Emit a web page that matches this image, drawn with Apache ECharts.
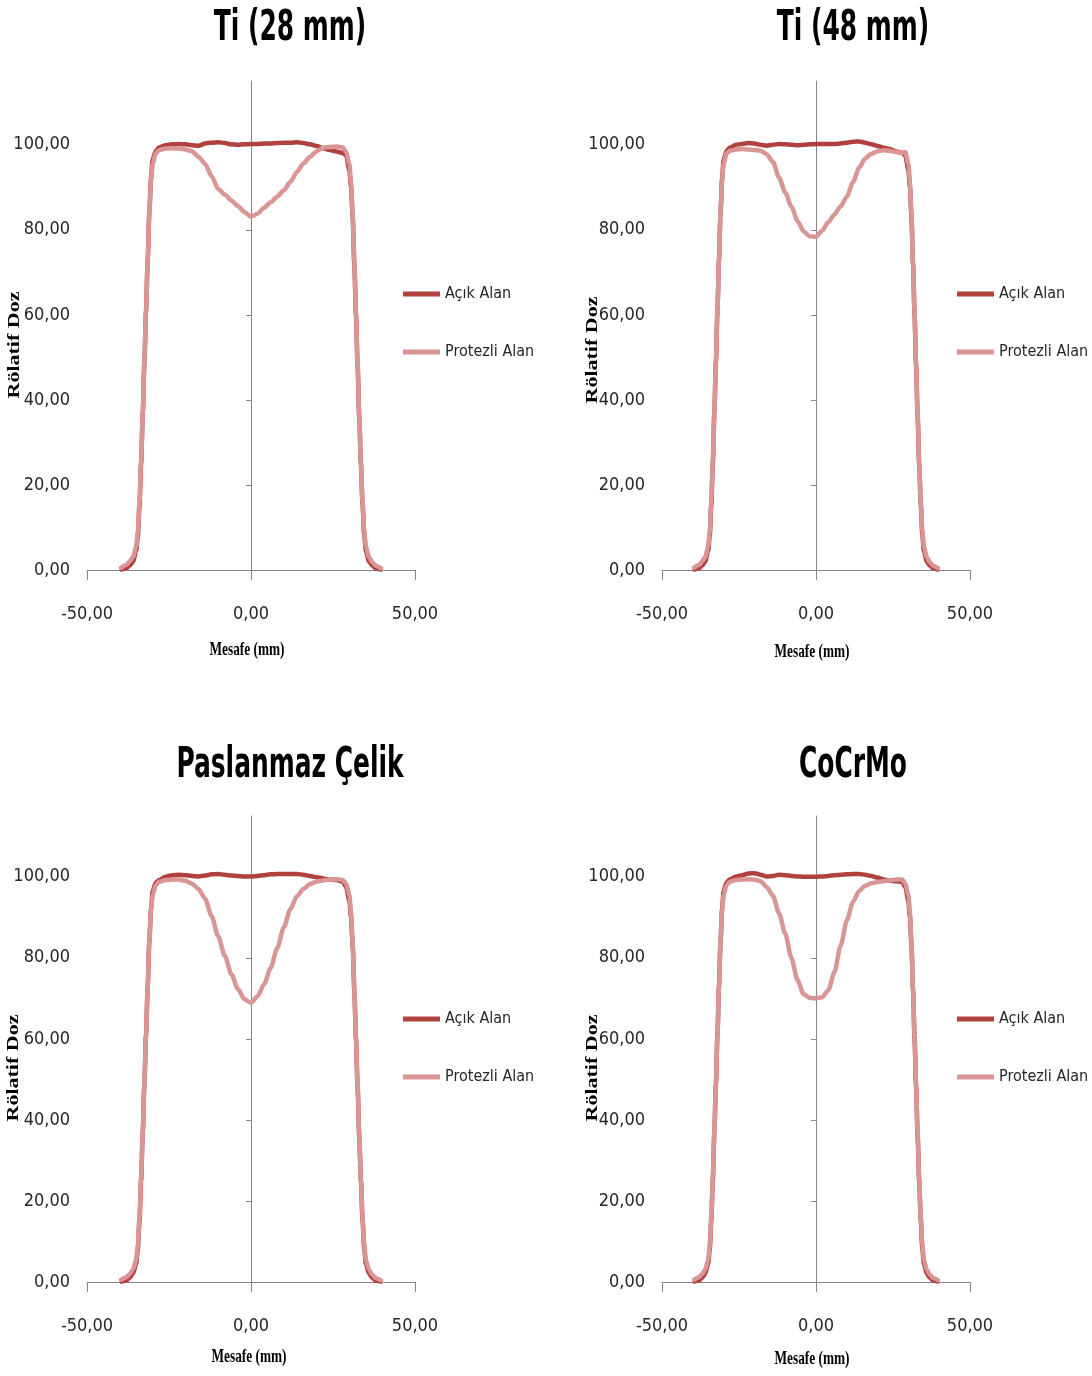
<!DOCTYPE html>
<html><head><meta charset="utf-8">
<script src="https://cdn.jsdelivr.net/npm/echarts@6/dist/echarts.min.js"></script>
<style>html,body{margin:0;padding:0;background:#fff}#c{width:1092px;height:1376px}</style>
</head><body><div id="c"></div>
<script>
// ---- data ----
const titles = ['Ti (28 mm)', 'Ti (48 mm)', 'Paslanmaz Çelik', 'CoCrMo'];
const seriesNames = ['Açık Alan', 'Protezli Alan'];
const xTickLabels = [-50, 0, 50];
const yTickValues = [0, 20, 40, 60, 80, 100];

const xLeft = [-40, -38, -37, -36, -35, -34.5, -34, -33.5, -33, -32.5, -32, -31.5, -31, -30.5, -30, -29];
const xMid = [-28, -26, -24, -22, -20, -18, -16, -14, -12, -10, -8, -6, -4, -2, 0, 2, 4, 6, 8, 10, 12, 14, 16, 18, 20, 22, 24, 26, 28];
const xRight = [29, 30, 30.5, 31, 31.5, 32, 32.5, 33, 33.5, 34, 34.5, 35, 36, 37, 38, 40];

const openLeft = [0, 0.4, 1, 2, 4.5, 8, 15, 25, 37, 49, 61, 73, 84, 92, 96.5, 98.6];
const protLeft = [0.3, 1.2, 2, 3, 5.5, 9, 16, 26, 37, 49, 61, 73, 84, 91.5, 95.5, 98];
const openRight = [97.5, 94, 90, 83, 72, 60, 48, 36, 25, 15.5, 8.5, 4.5, 2, 1, 0.4, 0];
const protRight = [98.3, 95.5, 91, 83.5, 72.5, 60.5, 48.5, 36.5, 25.5, 16, 9.5, 5.5, 3, 1.8, 1, 0.2];

const ti28Open = [99.4, 99.9, 100.1, 100.2, 100.1, 99.9, 99.8, 100.3, 100.5, 100.6, 100.4, 100.1, 100.0, 100.1, 100.2, 100.2, 100.3, 100.3, 100.4, 100.5, 100.5, 100.6, 100.4, 100.1, 99.7, 99.2, 98.8, 98.4, 98.1];
const ti28Prot = [98.8, 99.1, 99.2, 99.1, 98.9, 98.5, 97.2, 95.5, 92.6, 89.6, 88.3, 86.9, 85.6, 84.2, 83.1, 83.8, 85.2, 86.5, 87.8, 89.3, 91.3, 93.6, 95.6, 97.2, 98.5, 99.3, 99.5, 99.6, 99.4];
const ti48Open = [99.3, 100.0, 100.2, 100.4, 100.3, 100.0, 99.8, 100.0, 100.2, 100.1, 100.0, 99.9, 100.0, 100.1, 100.2, 100.2, 100.2, 100.2, 100.3, 100.5, 100.7, 100.8, 100.5, 100.1, 99.7, 99.3, 99.0, 98.4, 98.1];
const ti48Prot = [98.6, 98.9, 99.0, 98.9, 98.8, 98.6, 97.8, 96.0, 92.3, 88.8, 85.5, 82.1, 79.6, 78.5, 78.4, 79.8, 81.8, 83.6, 85.5, 87.8, 91.2, 94.6, 96.8, 97.9, 98.5, 98.7, 98.6, 98.3, 98.1];
const steelOpen = [99.2, 100.0, 100.4, 100.5, 100.4, 100.2, 100.1, 100.3, 100.6, 100.7, 100.5, 100.3, 100.2, 100.1, 100.1, 100.2, 100.4, 100.6, 100.7, 100.7, 100.7, 100.7, 100.5, 100.2, 99.9, 99.6, 99.3, 99.2, 98.8];
const steelProt = [98.8, 99.2, 99.3, 99.3, 99.0, 98.3, 97.0, 94.6, 90.3, 85.3, 80.5, 76.0, 72.3, 69.8, 68.9, 70.5, 73.5, 77.5, 82.4, 87.5, 92.0, 95.2, 97.0, 98.2, 98.8, 99.1, 99.3, 99.4, 99.2];
const cocrOpen = [99.4, 100.0, 100.4, 100.8, 100.9, 100.5, 100.1, 100.2, 100.5, 100.4, 100.2, 100.1, 100.0, 100.0, 100.0, 100.1, 100.2, 100.4, 100.5, 100.6, 100.7, 100.7, 100.5, 100.2, 99.8, 99.3, 99.0, 98.9, 98.8];
const cocrProt = [98.8, 99.2, 99.3, 99.4, 99.3, 98.9, 97.5, 95.3, 91.0, 86.0, 80.0, 74.5, 71.0, 70.1, 70.0, 70.3, 72.0, 76.5, 83.0, 89.2, 93.8, 96.5, 97.8, 98.4, 98.7, 98.9, 99.1, 99.3, 99.3];

const openMids = [ti28Open, ti48Open, steelOpen, cocrOpen];
const protMids = [ti28Prot, ti48Prot, steelProt, cocrProt];

// ---- layout / style ----
const layouts = [
  {left: 87, top: 81, width: 328, height: 489, tx: 290, ty: 29, lx: 403, ly: 282, xn: [247, 650], yn: [15, 345]},
  {left: 662, top: 81, width: 308, height: 489, tx: 853, ty: 29, lx: 957, ly: 282, xn: [812, 652], yn: [593, 350]},
  {left: 87, top: 816, width: 328, height: 466, tx: 290, ty: 766, lx: 403, ly: 1007, xn: [249, 1357], yn: [14, 1068]},
  {left: 662, top: 816, width: 308, height: 466, tx: 853, ty: 766, lx: 957, ly: 1007, xn: [812, 1359], yn: [593, 1068]}
];
const colOpen = '#B0413E';
const colProt = '#D99694';
const axisCol = '#868686';
const narrow = '"Liberation Sans Narrow", "DejaVu Sans Condensed", "Roboto", sans-serif';
const serif = '"Liberation Serif", "DejaVu Serif", serif';
const fmt = v => v.toFixed(2).replace('.', ',');

const xAll = xLeft.concat(xMid, xRight);
const zip = ys => xAll.map((x, i) => [x, ys[i]]);

const option = {animation: false, backgroundColor: '#fff', grid: [], xAxis: [], yAxis: [], series: [], legend: [], graphic: []};

layouts.forEach((L, i) => {
  option.grid.push({left: L.left, top: L.top, width: L.width, height: L.height, containLabel: false});
  option.xAxis.push({
    gridIndex: i, type: 'value', min: -50, max: 50, interval: 50,
    axisLine: {onZero: false, lineStyle: {color: axisCol, width: 1}},
    axisTick: {show: true, length: 10, lineStyle: {color: axisCol}},
    axisLabel: {margin: 35, fontSize: 18, fontFamily: narrow, color: '#262626', formatter: fmt, customValues: xTickLabels},
    splitLine: {show: false}
  });
  option.yAxis.push({
    gridIndex: i, type: 'value', min: 0, max: 115, interval: 20, position: 'left',
    axisLine: {show: false, onZero: false}, axisTick: {show: false}, splitLine: {show: false},
    axisLabel: {margin: 17, fontSize: 18, fontFamily: narrow, color: '#262626', formatter: fmt, customValues: yTickValues}
  });
  option.yAxis.push({
    gridIndex: i, type: 'value', min: 0, max: 115, interval: 20, position: 'right',
    axisLine: {show: true, onZero: true, lineStyle: {color: axisCol, width: 1}},
    axisTick: {show: true, inside: true, length: 5, lineStyle: {color: axisCol}, customValues: [20, 40, 60, 80, 100]},
    axisLabel: {show: false}, splitLine: {show: false}
  });
  const openData = zip(openLeft.concat(openMids[i], openRight));
  const protData = zip(protLeft.concat(protMids[i], protRight));
  option.series.push({
    name: seriesNames[0], type: 'line', xAxisIndex: i, yAxisIndex: 2 * i, data: openData,
    showSymbol: false, smooth: 0.25, smoothMonotone: 'x', lineStyle: {color: colOpen, width: 4.5}, itemStyle: {color: colOpen}, z: 2
  });
  option.series.push({
    name: seriesNames[1], type: 'line', xAxisIndex: i, yAxisIndex: 2 * i, data: protData,
    showSymbol: false, smooth: 0.25, smoothMonotone: 'x', lineStyle: {color: colProt, width: 4.5}, itemStyle: {color: colProt}, z: 3
  });
  option.legend.push({
    data: seriesNames, orient: 'vertical', left: L.lx, top: L.ly, padding: 0,
    icon: 'rect', itemWidth: 37, itemHeight: 5, itemGap: 34,
    textStyle: {fontSize: 16, fontFamily: narrow, color: '#262626', lineHeight: 24}
  });
  option.graphic.push({
    type: 'text', x: L.tx, y: L.ty, scaleX: 0.66,
    style: {text: titles[i], align: 'center', verticalAlign: 'middle', font: 'bold 42px ' + narrow, fill: '#000'}
  });
  option.graphic.push({
    type: 'text', x: L.xn[0], y: L.xn[1], scaleX: 0.7,
    style: {text: 'Mesafe (mm)', align: 'center', verticalAlign: 'middle', font: 'bold 19px ' + serif, fill: '#000'}
  });
  option.graphic.push({
    type: 'text', x: L.yn[0], y: L.yn[1], rotation: Math.PI / 2, scaleY: 0.75,
    style: {text: 'Rölatif Doz', align: 'center', verticalAlign: 'middle', font: 'bold 22px ' + serif, fill: '#000'}
  });
});

const chart = echarts.init(document.getElementById('c'), null, {renderer: 'canvas'});
chart.setOption(option);
</script></body></html>
